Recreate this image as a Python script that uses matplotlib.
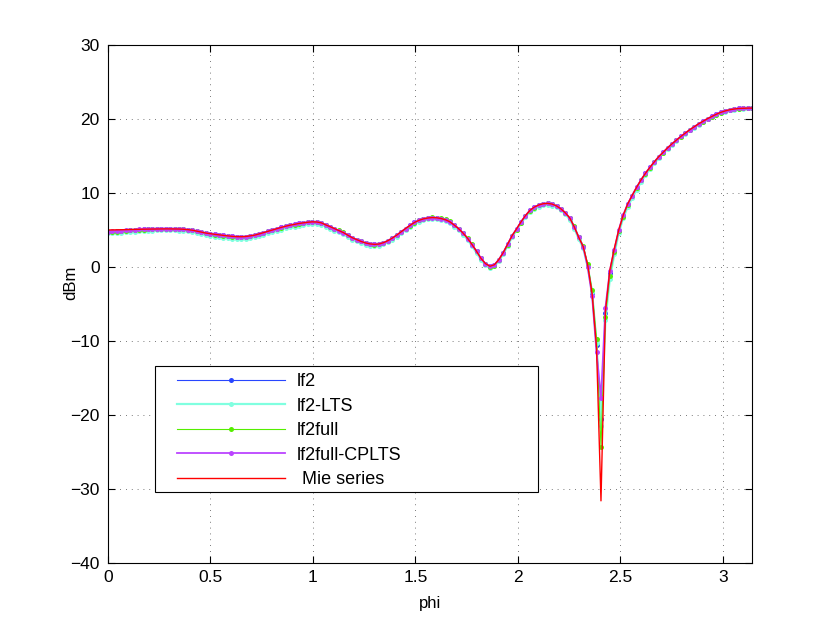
import numpy as np
import matplotlib
matplotlib.use('Agg')
import matplotlib.pyplot as plt
from matplotlib.patches import Rectangle

plt.rcParams['font.family'] = ['Liberation Sans', 'DejaVu Sans']
plt.rcParams['font.size'] = 12

# Данные: 146 равноотстоящих точек по phi от 0 до pi
phi = np.linspace(0, np.pi, 146)

mie = [
    5.00, 5.01, 5.02, 5.04, 5.05, 5.06, 5.08, 5.10, 5.11, 5.12,
    5.13, 5.14, 5.15, 5.15, 5.15, 5.14, 5.13, 5.10, 5.05, 4.97,
    4.85, 4.72, 4.59, 4.50, 4.42, 4.34, 4.27, 4.20, 4.14, 4.10,
    4.09, 4.12, 4.20, 4.30, 4.46, 4.64, 4.83, 5.00, 5.17, 5.35,
    5.51, 5.65, 5.77, 5.88, 5.97, 6.05, 6.10, 6.08, 5.97, 5.70,
    5.45, 5.18, 4.92, 4.65, 4.30, 3.95, 3.70, 3.45, 3.25, 3.12,
    3.06, 3.10, 3.28, 3.55, 3.90, 4.30, 4.75, 5.20, 5.62, 6.02,
    6.30, 6.50, 6.62, 6.68, 6.65, 6.55, 6.38, 6.10, 5.65, 5.15,
    4.55, 3.85, 3.00, 2.10, 1.15, 0.45, 0.10, 0.30, 1.00, 1.95,
    3.10, 4.25, 5.15, 6.10, 6.95, 7.65, 8.10, 8.38, 8.55, 8.60,
    8.50, 8.25, 7.85, 7.30, 6.60, 5.40, 4.00, 2.75, 0.30, -3.60,
    -10.9, -31.6, -6.0, -0.4, 2.5, 5.0, 7.0, 8.5, 9.65, 10.75,
    11.75, 12.65, 13.45, 14.2, 14.9, 15.5, 16.1, 16.65, 17.15, 17.65,
    18.1, 18.55, 18.95, 19.35, 19.7, 20.05, 20.35, 20.65, 20.9, 21.1,
    21.25, 21.35, 21.42, 21.45, 21.47, 21.48,
]

lf2 = [
    4.72, 4.77, 4.82, 4.87, 4.92, 4.96, 5.00, 5.04, 5.08, 5.11,
    5.14, 5.16, 5.17, 5.18, 5.18, 5.16, 5.13, 5.10, 5.05, 4.97,
    4.85, 4.72, 4.59, 4.50, 4.42, 4.34, 4.27, 4.20, 4.14, 4.10,
    4.09, 4.12, 4.20, 4.30, 4.46, 4.64, 4.83, 5.00, 5.17, 5.35,
    5.51, 5.65, 5.77, 5.88, 5.97, 6.05, 6.10, 6.08, 5.97, 5.70,
    5.45, 5.18, 4.92, 4.65, 4.30, 3.95, 3.70, 3.45, 3.25, 3.12,
    3.06, 3.10, 3.28, 3.55, 3.90, 4.30, 4.75, 5.20, 5.62, 6.02,
    6.30, 6.50, 6.62, 6.68, 6.65, 6.55, 6.38, 6.10, 5.65, 5.15,
    4.55, 3.85, 3.00, 2.10, 1.15, 0.45, 0.10, 0.30, 1.00, 1.95,
    3.10, 4.25, 5.15, 6.10, 6.95, 7.65, 8.10, 8.38, 8.55, 8.60,
    8.50, 8.25, 7.85, 7.30, 6.60, 5.40, 4.00, 2.75, 0.20, -3.50,
    -10.6, -20.5, -6.2, -0.8, 2.2, 4.9, 6.9, 8.5, 9.65, 10.75,
    11.75, 12.65, 13.45, 14.2, 14.9, 15.5, 16.1, 16.65, 17.15, 17.65,
    18.1, 18.55, 18.95, 19.35, 19.7, 20.05, 20.35, 20.65, 20.9, 21.1,
    21.25, 21.35, 21.42, 21.45, 21.47, 21.48,
]

lf2_lts = [
    4.55, 4.58, 4.62, 4.66, 4.70, 4.74, 4.78, 4.82, 4.86, 4.89,
    4.92, 4.94, 4.96, 4.97, 4.97, 4.96, 4.93, 4.89, 4.83, 4.75,
    4.55, 4.42, 4.29, 4.20, 4.12, 4.04, 3.97, 3.90, 3.84, 3.80,
    3.79, 3.82, 3.90, 4.00, 4.16, 4.34, 4.53, 4.70, 4.87, 5.05,
    5.21, 5.35, 5.47, 5.58, 5.67, 5.75, 5.85, 5.83, 5.72, 5.45,
    5.20, 4.93, 4.67, 4.40, 4.05, 3.70, 3.45, 3.20, 3.00, 2.87,
    2.86, 2.90, 3.08, 3.35, 3.70, 4.10, 4.55, 5.00, 5.42, 5.82,
    6.10, 6.30, 6.42, 6.48, 6.45, 6.35, 6.18, 5.90, 5.45, 4.95,
    4.35, 3.65, 2.80, 1.90, 0.95, 0.25, -0.10, 0.10, 0.80, 1.75,
    2.90, 4.05, 4.95, 5.90, 6.75, 7.45, 7.85, 8.15, 8.35, 8.40,
    8.30, 8.05, 7.65, 7.10, 6.40, 5.20, 3.80, 2.55, 0.10, -3.40,
    -10.3, -21.5, -7.2, -1.6, 1.7, 4.6, 6.6, 8.1, 9.3, 10.4,
    11.45, 12.4, 13.2, 14.0, 14.7, 15.35, 15.95, 16.5, 17.05, 17.55,
    18.0, 18.45, 18.85, 19.25, 19.6, 19.95, 20.25, 20.55, 20.8, 21.0,
    21.15, 21.27, 21.35, 21.4, 21.42, 21.43,
]

lf2full = [
    4.70, 4.74, 4.79, 4.84, 4.89, 4.94, 4.98, 5.02, 5.06, 5.09,
    5.12, 5.14, 5.16, 5.17, 5.17, 5.16, 5.13, 5.09, 5.03, 4.95,
    4.82, 4.69, 4.56, 4.47, 4.39, 4.31, 4.24, 4.17, 4.11, 4.07,
    4.06, 4.09, 4.17, 4.27, 4.43, 4.61, 4.80, 4.97, 5.14, 5.32,
    5.48, 5.62, 5.74, 5.85, 5.94, 6.02, 6.07, 6.06, 5.96, 5.72,
    5.47, 5.20, 4.94, 4.67, 4.32, 3.97, 3.70, 3.45, 3.24, 3.10,
    3.03, 3.07, 3.25, 3.52, 3.87, 4.27, 4.72, 5.17, 5.60, 6.00,
    6.30, 6.50, 6.63, 6.70, 6.68, 6.60, 6.42, 6.15, 5.70, 5.20,
    4.60, 3.90, 3.05, 2.15, 1.15, 0.40, 0.05, 0.20, 0.90, 1.85,
    3.00, 4.15, 5.05, 6.00, 6.85, 7.55, 8.00, 8.32, 8.52, 8.60,
    8.52, 8.28, 7.90, 7.36, 6.66, 5.50, 4.10, 2.90, 0.40, -3.10,
    -9.7, -24.3, -6.7, -1.2, 2.0, 4.8, 6.8, 8.4, 9.6, 10.7,
    11.7, 12.6, 13.4, 14.15, 14.85, 15.45, 16.05, 16.6, 17.1, 17.6,
    18.05, 18.5, 18.9, 19.3, 19.65, 20.0, 20.3, 20.6, 20.85, 21.05,
    21.2, 21.32, 21.4, 21.43, 21.45, 21.46,
]

lf2full_cplts = [
    4.75, 4.80, 4.85, 4.90, 4.95, 4.99, 5.03, 5.07, 5.10, 5.13,
    5.16, 5.18, 5.19, 5.20, 5.19, 5.17, 5.14, 5.10, 5.05, 4.97,
    4.85, 4.72, 4.59, 4.50, 4.42, 4.34, 4.27, 4.20, 4.14, 4.10,
    4.09, 4.12, 4.20, 4.30, 4.46, 4.64, 4.83, 5.00, 5.17, 5.35,
    5.51, 5.65, 5.77, 5.88, 5.97, 6.05, 6.10, 6.08, 5.97, 5.70,
    5.45, 5.18, 4.92, 4.65, 4.30, 3.95, 3.70, 3.45, 3.25, 3.12,
    3.06, 3.10, 3.28, 3.55, 3.90, 4.30, 4.75, 5.20, 5.62, 6.02,
    6.30, 6.50, 6.62, 6.68, 6.65, 6.55, 6.38, 6.10, 5.65, 5.15,
    4.55, 3.85, 3.00, 2.10, 1.15, 0.45, 0.10, 0.30, 1.00, 1.95,
    3.10, 4.25, 5.15, 6.10, 6.95, 7.65, 8.10, 8.38, 8.55, 8.60,
    8.50, 8.25, 7.85, 7.30, 6.60, 5.40, 4.00, 2.75, 0.00, -3.90,
    -11.5, -17.7, -5.5, -0.5, 2.3, 5.0, 7.0, 8.5, 9.65, 10.75,
    11.75, 12.65, 13.45, 14.2, 14.9, 15.5, 16.1, 16.65, 17.15, 17.65,
    18.1, 18.55, 18.95, 19.35, 19.7, 20.05, 20.35, 20.65, 20.9, 21.1,
    21.25, 21.35, 21.42, 21.45, 21.47, 21.48,
]

series = [
    (lf2, 'lf2', '#2846ff', 0.8),
    (lf2_lts, 'lf2-LTS', '#80ffe0', 1.6),
    (lf2full, 'lf2full', '#55ee00', 0.8),
    (lf2full_cplts, 'lf2full-CPLTS', '#bb44ff', 1.3),
]

fig = plt.figure(figsize=(8.3, 6.32), dpi=100)
ax = fig.add_axes([0.1301, 0.1092, 0.7759, 0.8196])

for vals, name, col, lw in series:
    ax.plot(phi, vals, color=col, lw=lw, marker='o', ms=3.6, mew=0,
            mfc=col, label=name)
ax.plot(phi, mie, color='#ff0000', lw=1.0, label=' Mie series')

ax.set_xlim(0, np.pi)
ax.set_ylim(-40, 30)
ax.set_xticks([0, 0.5, 1, 1.5, 2, 2.5, 3])
ax.set_xticklabels(['0', '0.5', '1', '1.5', '2', '2.5', '3'])
ax.set_yticks(np.arange(-40, 31, 10))

ax.grid(True, color='0.3', linestyle=(0, (1, 6)), linewidth=0.6)
ax.tick_params(direction='in', length=5, width=0.8, top=True, right=True,
               labelsize=12.5)
ax.tick_params(axis='x', pad=5)
ax.tick_params(axis='y', pad=6)
for sp in ax.spines.values():
    sp.set_linewidth(0.8)

ax.set_xlabel('phi', fontsize=12)
ax.set_ylabel('dBm', fontsize=12)
ax.xaxis.set_label_coords(0.5, -0.064)
ax.yaxis.set_label_coords(-0.0466, 0.54)

# рамка легенды рисуется отдельно (как в MATLAB)
box = Rectangle((0.073, 0.1371), 0.5947, 0.2432, transform=ax.transAxes,
                facecolor='white', edgecolor='black', lw=0.8, zorder=5)
ax.add_patch(box)
leg = ax.legend(loc='upper left', bbox_to_anchor=(0.1071, 0.3668),
                numpoints=1, fontsize=13, handlelength=6.0,
                handletextpad=0.66, labelspacing=0.42, borderaxespad=0,
                borderpad=0, frameon=False)
leg.set_zorder(6)

fig.savefig('out.png', dpi=100)
